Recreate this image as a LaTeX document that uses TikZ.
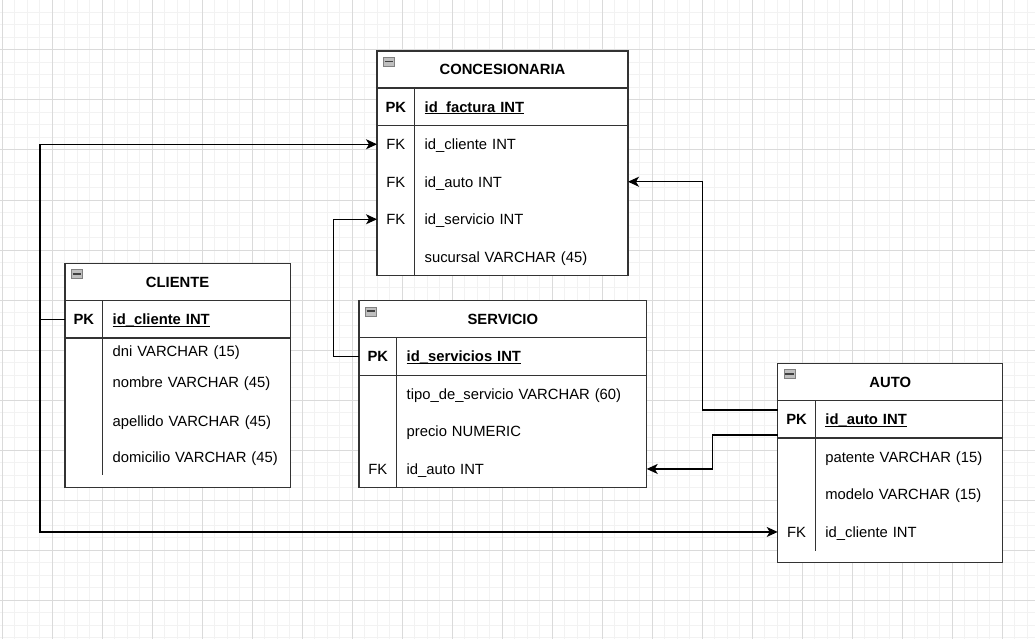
\documentclass[tikz,border=0pt]{standalone}
\usepackage{fontspec}
\setmainfont{Liberation Sans}
\usetikzlibrary{arrows.meta, positioning}

\definecolor{gridlight}{HTML}{F2F2F2}
\definecolor{griddark}{HTML}{DADADA}
\definecolor{erline}{HTML}{333333}

\newcommand{\erfont}{\fontsize{14.8pt}{17pt}\selectfont}
\newcommand{\pkname}[1]{\setbox0=\hbox{\bfseries #1}\rlap{\vrule width \wd0 height -1pt depth 2.3pt}\box0}

\tikzset{
  minorline/.style={gridlight, line width=1pt},
  majorline/.style={griddark, line width=1pt},
  tableline/.style={draw=erline, line width=1.4pt},
  tabletitle/.style={tableline, fill=white, font=\erfont\bfseries, inner sep=0pt, outer sep=0pt,
    minimum height=37pt, text height=13pt, text depth=2.4pt},
  tablebody/.style={tableline, fill=white, inner sep=0pt, outer sep=0pt},
  keycell/.style={minimum width=37.7pt, minimum height=37.5pt, inner sep=0pt, outer sep=0pt,
    text height=13pt, text depth=2.4pt},
  pkcell/.style={keycell, font=\erfont\bfseries},
  fieldcell/.style={text width=260pt, align=left, inner xsep=10pt, inner ysep=0pt, outer sep=0pt,
    minimum height=37.5pt, text height=13pt, text depth=2.4pt},
  minusicon/.style={draw=black!50, fill=black!25, minimum width=11.5pt, minimum height=9pt,
    inner sep=0pt, outer sep=0pt,
    path picture={\draw[black!75, line width=1.5pt] ([xshift=1.5pt]path picture bounding box.west)
      -- ([xshift=-1.5pt]path picture bounding box.east);}},
  fk/.style={->, line width=1.3pt},
}

\begin{document}
\begin{tikzpicture}[x=1pt, y=-1pt, node distance=0pt, >={Stealth[length=11pt, width=10pt, inset=3pt]}, font=\erfont]
    \useasboundingbox (0,0) rectangle (1035,639);

    % Background grid
    \fill[white] (0,0) rectangle (1035,639);
    \foreach \x in {2,14.5,...,1035} \draw[minorline] (\x,0) -- (\x,639);
    \foreach \y in {0,12.5,...,639} \draw[minorline] (0,\y) -- (1035,\y);
    \foreach \x in {2,52,...,1002} \draw[majorline] (\x,0) -- (\x,639);
    \foreach \y in {0,50,...,600} \draw[majorline] (0,\y) -- (1035,\y);

    % Table CONCESIONARIA
    \node (conTitle) [tabletitle, minimum width=251pt, anchor=north west] at (377,51) {CONCESIONARIA};
    \node (conBody) [tablebody, minimum width=251pt, minimum height=187.5pt, below=of conTitle] {};
    \node (conIcon) [minusicon, anchor=north west] at ([shift={(6,6)}]conTitle.north west) {};
    \node (conPK) [pkcell, below right=of conTitle.south west] {PK};
    \node (conPKf) [fieldcell, right=of conPK] {\pkname{id\_factura INT}};
    \node (conK1) [keycell, below=of conPK] {FK};
    \node (conK2) [keycell, below=of conK1] {FK};
    \node (conK3) [keycell, below=of conK2] {FK};
    \node (conF1) [fieldcell, below=of conPKf] {id\_cliente INT};
    \node (conF2) [fieldcell, below=of conF1] {id\_auto INT};
    \node (conF3) [fieldcell, below=of conF2] {id\_servicio INT};
    \node (conF4) [fieldcell, below=of conF3] {sucursal VARCHAR (45)};
    \draw[tableline] (conPK.north east) -- (conPK.east |- conF4.south);
    \draw[tableline] (conPK.south west) -- (conPK.south -| conBody.east);

    % Table CLIENTE
    \node (cliTitle) [tabletitle, minimum width=225.3pt, minimum height=37.4pt, anchor=north west] at (65,263.3) {CLIENTE};
    \node (cliBody) [tablebody, minimum width=225.3pt, minimum height=187pt, below=of cliTitle] {};
    \node (cliIcon) [minusicon, anchor=north west] at ([shift={(6,6)}]cliTitle.north west) {};
    \node (cliPK) [pkcell, below right=of cliTitle.south west] {PK};
    \node (cliPKf) [fieldcell, right=of cliPK] {\pkname{id\_cliente INT}};
    \node (cliF1) [fieldcell, minimum height=25.4pt, below=of cliPKf] {dni VARCHAR (15)};
    \node (cliF2) [fieldcell, minimum height=37.8pt, below=of cliF1] {nombre VARCHAR (45)};
    \node (cliF3) [fieldcell, minimum height=39pt, below=of cliF2] {apellido VARCHAR (45)};
    \node (cliF4) [fieldcell, minimum height=34.2pt, below=of cliF3] {domicilio VARCHAR (45)};
    \draw[tableline] (cliPK.north east) -- (cliPK.east |- cliF4.south);
    \draw[tableline, line width=2pt] (cliPK.south west) -- (cliPK.south -| cliBody.east);

    % Table SERVICIO
    \node (serTitle) [tabletitle, minimum width=287.7pt, anchor=north west] at (359,300.7) {SERVICIO};
    \node (serBody) [tablebody, minimum width=287.7pt, minimum height=150pt, below=of serTitle] {};
    \node (serIcon) [minusicon, anchor=north west] at ([shift={(6,6)}]serTitle.north west) {};
    \node (serPK) [pkcell, below right=of serTitle.south west] {PK};
    \node (serPKf) [fieldcell, right=of serPK] {\pkname{id\_servicios INT}};
    \node (serF1) [fieldcell, below=of serPKf] {tipo\_de\_servicio VARCHAR (60)};
    \node (serF2) [fieldcell, below=of serF1] {precio NUMERIC};
    \node (serF3) [fieldcell, below=of serF2] {id\_auto INT};
    \node (serK3) [keycell] at (serPK |- serF3) {FK};
    \draw[tableline] (serPK.north east) -- (serPK.east |- serF3.south);
    \draw[tableline] (serPK.south west) -- (serPK.south -| serBody.east);

    % Table AUTO
    \node (autTitle) [tabletitle, minimum width=225pt, minimum height=37.4pt, anchor=north west] at (777.7,363.3) {AUTO};
    \node (autBody) [tablebody, minimum width=225pt, minimum height=162pt, below=of autTitle] {};
    \node (autIcon) [minusicon, anchor=north west] at ([shift={(6,6)}]autTitle.north west) {};
    \node (autPK) [pkcell, below right=of autTitle.south west] {PK};
    \node (autPKf) [fieldcell, right=of autPK] {\pkname{id\_auto INT}};
    \node (autF1) [fieldcell, below=of autPKf] {patente VARCHAR (15)};
    \node (autF2) [fieldcell, below=of autF1] {modelo VARCHAR (15)};
    \node (autF3) [fieldcell, below=of autF2] {id\_cliente INT};
    \node (autK3) [keycell] at (autPK |- autF3) {FK};
    \draw[tableline] (autPK.north east) -- (autPK.east |- autF3.south);
    \draw[tableline, line width=2pt] (autPK.south west) -- (autPK.south -| autBody.east);

    % Relations
    \coordinate (cliBend) at ([xshift=-25pt]cliPK.west);
    \draw[fk] (cliPK.west) -- (cliBend) |- (conK1.west);
    \draw[fk] (cliPK.west) -- (cliBend) |- (autK3.west);
    \coordinate (serBend) at ([xshift=-25.7pt]serPK.west);
    \draw[fk] (serPK.west) -- (serBend) |- (conK3.west);
    \coordinate (autBendA) at ([shift={(-75,-9.4)}]autPK.west);
    \draw[fk] (autBendA -| autPK.west) -- (autBendA) |- (conF2 -| conBody.east);
    \coordinate (autBendB) at ([shift={(-65.4,15.6)}]autPK.west);
    \draw[fk] (autBendB -| autPK.west) -- (autBendB) |- (serF3 -| serBody.east);
\end{tikzpicture}
\end{document}
